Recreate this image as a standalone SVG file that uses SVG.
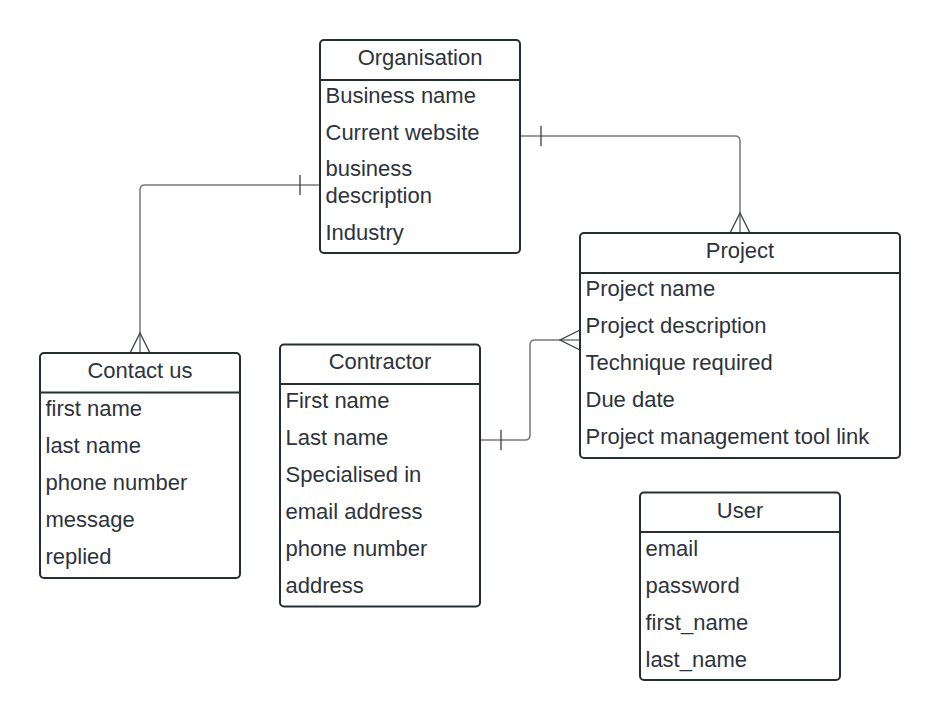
<svg xmlns="http://www.w3.org/2000/svg" width="940" height="721" viewBox="0 0 940 721">
<style>
.box{fill:#ffffff;stroke:#282c33;stroke-width:2}
.div{stroke:#282c33;stroke-width:2}
.t{font-family:"Liberation Sans",Arial,sans-serif;font-size:22px;fill:#2d333d}
.h{text-anchor:middle}
.conn{fill:none;stroke:#7a7a7a;stroke-width:1.5}
.mk{fill:none;stroke:#3a3f47;stroke-width:1.3}
</style>
<rect width="940" height="721" fill="#ffffff"/>
<g id="connectors">
  <path class="conn" d="M520,136 H735 Q740,136 740,141 V233"/>
  <path class="mk" d="M541,126 V146 M730,233 L740,213 L750,233"/>
  <path class="conn" d="M320,185 H145 Q140,185 140,190 V353"/>
  <path class="mk" d="M300,175 V195 M130,353 L140,333 L150,353"/>
  <path class="conn" d="M480,440 H525 Q530,440 530,435 V345 Q530,340 535,340 H580"/>
  <path class="mk" d="M501,430 V450 M580,330 L560,340 L580,350"/>
</g>
<g id="organisation">
  <rect class="box" x="320" y="40" width="200" height="213" rx="4"/>
  <line class="div" x1="320" y1="80" x2="520" y2="80"/>
  <text class="t h" x="420" y="65">Organisation</text>
  <text class="t" x="325.5" y="103">Business name</text>
  <text class="t" x="325.5" y="140">Current website</text>
  <text class="t" x="325.5" y="176">business</text>
  <text class="t" x="325.5" y="203">description</text>
  <text class="t" x="325.5" y="240">Industry</text>
</g>
<g id="project">
  <rect class="box" x="580" y="233" width="320" height="225" rx="4"/>
  <line class="div" x1="580" y1="273" x2="900" y2="273"/>
  <text class="t h" x="740" y="258">Project</text>
  <text class="t" x="585.5" y="296">Project name</text>
  <text class="t" x="585.5" y="333">Project description</text>
  <text class="t" x="585.5" y="370">Technique required</text>
  <text class="t" x="585.5" y="407">Due date</text>
  <text class="t" x="585.5" y="444">Project management tool link</text>
</g>
<g id="contact-us">
  <rect class="box" x="40" y="353" width="200" height="225" rx="4"/>
  <line class="div" x1="40" y1="392.5" x2="240" y2="392.5"/>
  <text class="t h" x="140" y="378">Contact us</text>
  <text class="t" x="45.5" y="416">first name</text>
  <text class="t" x="45.5" y="453">last name</text>
  <text class="t" x="45.5" y="490">phone number</text>
  <text class="t" x="45.5" y="527">message</text>
  <text class="t" x="45.5" y="564">replied</text>
</g>
<g id="contractor">
  <rect class="box" x="280" y="344.5" width="200" height="262" rx="4"/>
  <line class="div" x1="280" y1="384" x2="480" y2="384"/>
  <text class="t h" x="380" y="369">Contractor</text>
  <text class="t" x="285.5" y="408">First name</text>
  <text class="t" x="285.5" y="445">Last name</text>
  <text class="t" x="285.5" y="482">Specialised in</text>
  <text class="t" x="285.5" y="519">email address</text>
  <text class="t" x="285.5" y="556">phone number</text>
  <text class="t" x="285.5" y="593">address</text>
</g>
<g id="user">
  <rect class="box" x="640" y="492.5" width="200" height="187.5" rx="4"/>
  <line class="div" x1="640" y1="532" x2="840" y2="532"/>
  <text class="t h" x="740" y="518">User</text>
  <text class="t" x="645.5" y="556">email</text>
  <text class="t" x="645.5" y="593">password</text>
  <text class="t" x="645.5" y="630">first_name</text>
  <text class="t" x="645.5" y="667">last_name</text>
</g>
</svg>
